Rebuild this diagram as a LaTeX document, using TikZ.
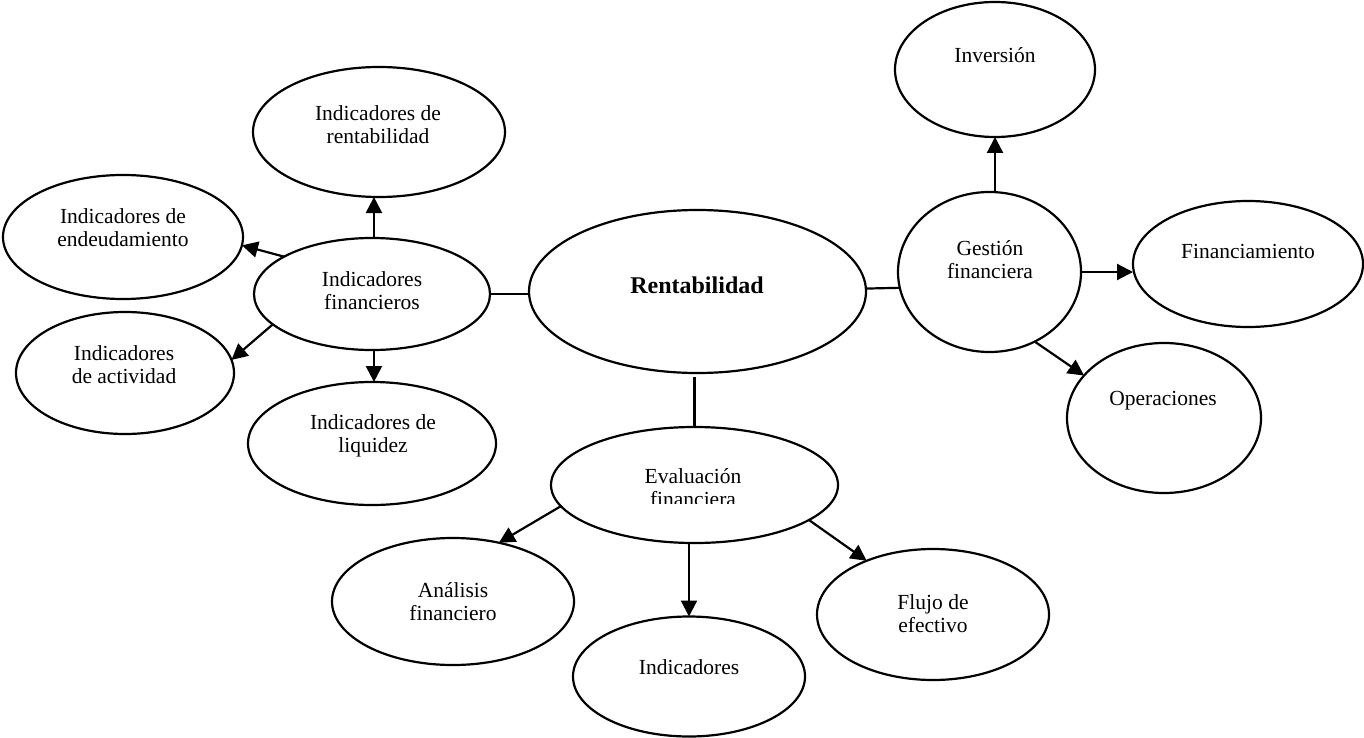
\documentclass[tikz,border=0pt]{standalone}
\usepackage{fontspec}
\setmainfont{Liberation Serif}
\usetikzlibrary{shapes.geometric,arrows.meta}
% strut fixing the top of every label 20pt above its first baseline
\newcommand{\tp}{\rule{0pt}{20pt}}
\tikzset{
  oval/.style={draw, ellipse, inner sep=0pt, outer sep=0pt, line width=2.2pt},
  txt/.style={anchor=north, inner sep=0pt, align=center,
              font=\fontsize{21.5}{23.5}\selectfont},
  link/.style={line width=2.2pt},
  arr/.style={line width=2.2pt, -{Triangle[length=16pt,width=16pt]}}
}
\begin{document}
\begin{tikzpicture}[x=1pt, y=-1pt]
\useasboundingbox (0,0) rectangle (1364,738);

% ovals
\node[oval, minimum width=337pt, minimum height=163pt] (rent)  at (697.5,291.5) {};
\node[oval, minimum width=236pt, minimum height=112pt] (ifn)   at (372,294) {};
\node[oval, minimum width=252pt, minimum height=130pt] (irent) at (379,132) {};
\node[oval, minimum width=240pt, minimum height=124pt] (iend)  at (123,237) {};
\node[oval, minimum width=218pt, minimum height=122pt] (iact)  at (125,373) {};
\node[oval, minimum width=248pt, minimum height=123pt] (iliq)  at (372,443.5) {};
\node[oval, minimum width=287pt, minimum height=116pt] (eval)  at (694.5,485) {};
\node[oval, minimum width=242pt, minimum height=127pt] (anal)  at (453,601.5) {};
\node[oval, minimum width=232pt, minimum height=120pt] (indi)  at (689,676.5) {};
\node[oval, minimum width=232pt, minimum height=131pt] (flujo) at (933,614.5) {};
\node[oval, minimum width=183pt, minimum height=160pt] (gest)  at (989.5,272) {};
\node[oval, minimum width=200pt, minimum height=135pt] (inv)   at (995,69.5) {};
\node[oval, minimum width=230pt, minimum height=126pt] (fin)   at (1248,264) {};
\node[oval, minimum width=194pt, minimum height=150pt] (oper)  at (1164,418) {};

% labels (placed by first baseline minus 20pt)
\node[txt, font=\fontsize{24}{26}\bfseries] (rent-t) at (697,273) {\tp Rentabilidad};
\node[txt] (ifn-t)   at (372,266) {\tp Indicadores\\financieros};
\node[txt] (irent-t) at (378,100) {\tp Indicadores de\\rentabilidad};
\node[txt] (iend-t)  at (123,203) {\tp Indicadores de\\endeudamiento};
\node[txt] (iact-t)  at (124,340) {\tp Indicadores\\de actividad};
\node[txt] (iliq-t)  at (373,409) {\tp Indicadores de\\liquidez};
\begin{scope}
  \clip (540,420) rectangle (850,503.5);
  \node[txt] (eval-t) at (693,463) {\tp Evaluación\\financiera};
\end{scope}
\node[txt] (anal-t)  at (453,577) {\tp Análisis\\financiero};
\node[txt] (indi-t)  at (689,654) {\tp Indicadores};
\node[txt] (flujo-t) at (933,589) {\tp Flujo de\\efectivo};
\node[txt] (gest-t)  at (990,235) {\tp Gestión\\financiera};
\node[txt] (inv-t)   at (995,42)  {\tp Inversión};
\node[txt] (fin-t)   at (1248,238) {\tp Financiamiento};
\node[txt] (oper-t)  at (1163,385) {\tp Operaciones};

% plain links from the centre
\draw[link] (ifn.east) -- (ifn.east -| rent.west);
\draw[link] (rent.1) -- (gest.190);
\draw[link, shorten <=4pt] (eval.north |- rent.south) -- (eval.north);

% arrows out of "Indicadores financieros"
\draw[arr] (ifn.88) -- (ifn.88 |- irent.south);
\draw[arr] (ifn.157) -- (iend.-4);
\draw[arr] (ifn.197) -- (iact.7);
\draw[arr] (ifn.-88) -- (ifn.-88 |- iliq.north);

% arrows out of "Gestión financiera"
\draw[arr] (inv.south |- gest.north) -- (inv.south);
\draw[arr] (gest.east) -- (gest.east -| fin.west);
\draw[arr] (gest.-57) -- (oper.152);

% arrows out of "Evaluación financiera"
\draw[arr] (eval.189) -- (anal.52);
\draw[arr] (indi.north |- eval.south) -- (indi.north);
\draw[arr] (eval.-17) -- (flujo.141);
\end{tikzpicture}
\end{document}
